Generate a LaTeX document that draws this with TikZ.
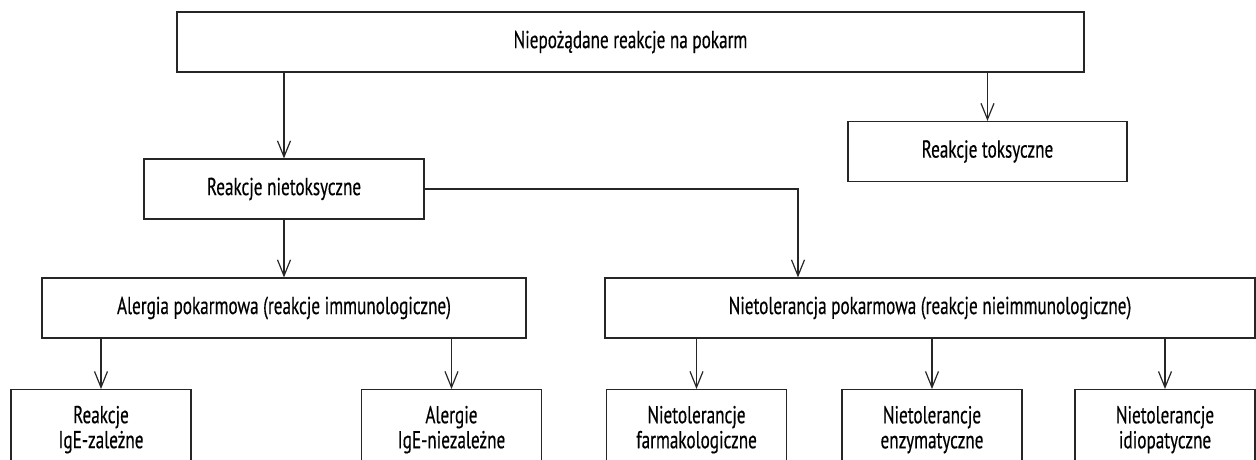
\documentclass[tikz,border=0pt]{standalone}
\usepackage{fontspec}
\setmainfont{PT Sans}[FakeStretch=0.7, FakeBold=0.4]
\usetikzlibrary{arrows.meta}
\begin{document}
\begin{tikzpicture}[x=1pt, y=-1pt,
  box/.style={draw=black!85, line width=1.2pt, minimum height=60pt, inner sep=0pt,
    font=\fontsize{24.5}{25}\selectfont, align=center},
  leaf/.style={box, minimum width=180pt, minimum height=80pt, anchor=north},
  arr/.style={draw=black!85, line width=1.2pt, -{Straight Barb[length=16pt,width=13pt]}}]
  \useasboundingbox (0,0) rectangle (1256,459);
  \clip (0,0) rectangle (1256,459);
  \node[box, minimum width=907pt] (food) at (630.5,42) {Niepożądane reakcje na pokarm};
  \node[box, minimum width=279pt] (toxic) at (987.5,151.5) {Reakcje toksyczne};
  \node[box, minimum width=280pt] (nontox) at (284,189) {Reakcje nietoksyczne};
  \node[box, minimum width=484pt] (allergy) at (284,308) {Alergia pokarmowa (reakcje immunologiczne)};
  \node[box, minimum width=650pt] (intol) at (930,308) {Nietolerancja pokarmowa (reakcje nieimmunologiczne)};
  % bottom row
  \node[leaf] (ige) at (101,389) {Reakcje\\IgE-zależne};
  \node[leaf] (nonige) at (451.5,389) {Alergie\\IgE-niezależne};
  \node[leaf] (pharm) at (696.5,389) {Nietolerancje\\farmakologiczne};
  \node[leaf] (enzym) at (932,389) {Nietolerancje\\enzymatyczne};
  \node[leaf] (idio) at (1165,389) {Nietolerancje\\idiopatyczne};
  \draw[arr] (food.south -| nontox.north) -- (nontox.north);
  \draw[arr] (food.south -| toxic.north) -- (toxic.north);
  \draw[arr] (nontox.south) -- (allergy.north);
  \draw[arr] (nontox.east) -| ([xshift=-132pt]intol.north);
  \foreach \a/\b in {allergy/ige, allergy/nonige, intol/pharm, intol/enzym, intol/idio}
    \draw[arr] (\a.south -| \b.north) -- (\b.north);
\end{tikzpicture}
\end{document}
